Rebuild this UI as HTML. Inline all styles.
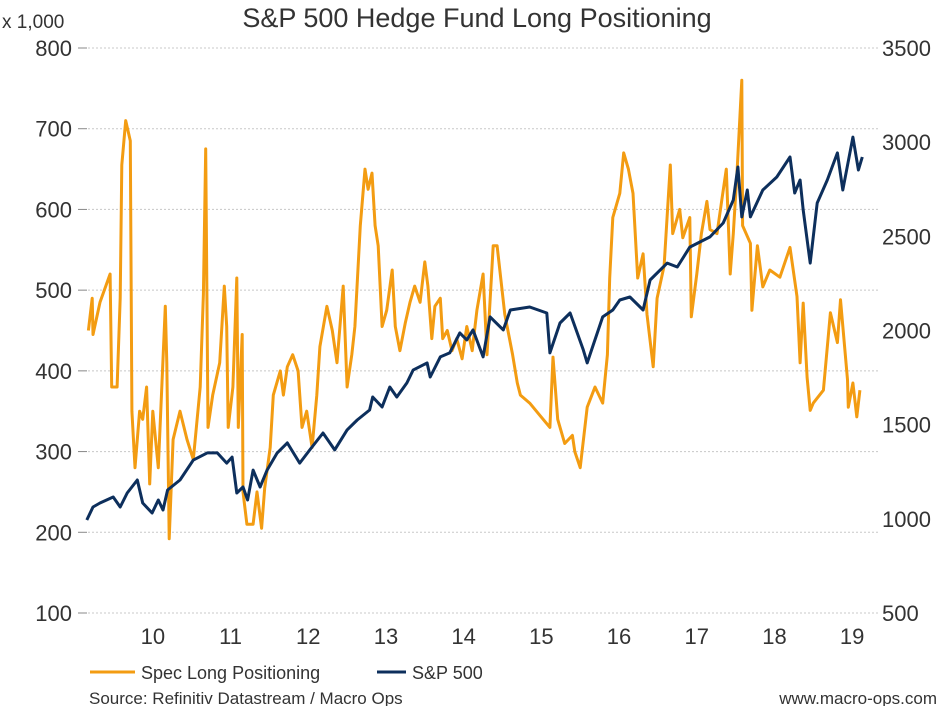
<!DOCTYPE html>
<html><head><meta charset="utf-8">
<style>
html,body{margin:0;padding:0;background:#fff;width:951px;height:706px;overflow:hidden;}
svg{display:block;font-family:"Liberation Sans",Arial,sans-serif;}
</style></head><body>
<svg id="chart" width="951" height="706" viewBox="0 0 951 706">
<text x="477" y="27" text-anchor="middle" font-size="27" fill="#333">S&amp;P 500 Hedge Fund Long Positioning</text>
<text x="2" y="28" font-size="19" fill="#333">x 1,000</text>
<g id="grid"></g><g id="laxis"></g><g id="raxis"></g><g id="xaxis"></g>
<g id="series"></g>
<g>
<line x1="90" y1="672" x2="135" y2="672" stroke="#f39c12" stroke-width="3"/>
<text x="141" y="679" font-size="18" fill="#333">Spec Long Positioning</text>
<line x1="377" y1="672" x2="406" y2="672" stroke="#0d2f5c" stroke-width="3"/>
<text x="412" y="679" font-size="18" fill="#333">S&amp;P 500</text>
</g>
<text x="89" y="704" font-size="17" fill="#333">Source: Refinitiv Datastream / Macro Ops</text>
<text x="937" y="704" text-anchor="end" font-size="17" fill="#333">www.macro-ops.com</text>
</svg>
<script>
const leftTicks=[100,200,300,400,500,600,700,800];
const rightTicks=[500,1000,1500,2000,2500,3000,3500];
const yearLabels=["10","11","12","13","14","15","16","17","18","19"];
const yearStarts=[2010,2011,2012,2013,2014,2015,2016,2017,2018,2019];
const specDates=[2009.67,2009.72,2009.73,2009.82,2009.95,2009.97,2010.04,2010.08,2010.10,2010.15,2010.21,2010.23,2010.27,2010.33,2010.37,2010.42,2010.46,2010.50,2010.57,2010.66,2010.68,2010.71,2010.76,2010.85,2010.94,2011.02,2011.11,2011.15,2011.18,2011.21,2011.27,2011.36,2011.42,2011.45,2011.47,2011.53,2011.58,2011.60,2011.65,2011.66,2011.71,2011.79,2011.84,2011.90,2011.94,2012.01,2012.05,2012.14,2012.18,2012.23,2012.30,2012.37,2012.42,2012.48,2012.55,2012.61,2012.65,2012.74,2012.81,2012.87,2012.95,2013.00,2013.06,2013.10,2013.17,2013.23,2013.27,2013.32,2013.36,2013.40,2013.45,2013.51,2013.58,2013.62,2013.68,2013.75,2013.81,2013.87,2013.94,2014.00,2014.04,2014.09,2014.13,2014.20,2014.23,2014.29,2014.35,2014.41,2014.48,2014.54,2014.61,2014.67,2014.75,2014.80,2014.88,2014.93,2015.03,2015.13,2015.19,2015.23,2015.35,2015.48,2015.61,2015.65,2015.71,2015.80,2015.90,2015.93,2016.00,2016.09,2016.19,2016.29,2016.35,2016.38,2016.42,2016.51,2016.56,2016.62,2016.68,2016.74,2016.81,2016.86,2016.94,2016.99,2017.08,2017.16,2017.19,2017.28,2017.32,2017.41,2017.43,2017.50,2017.56,2017.63,2017.67,2017.76,2017.82,2017.88,2017.93,2017.97,2018.02,2018.08,2018.09,2018.19,2018.21,2018.28,2018.35,2018.44,2018.57,2018.70,2018.79,2018.83,2018.87,2018.92,2018.96,2019.00,2019.13,2019.22,2019.31,2019.35,2019.44,2019.45,2019.51,2019.56,2019.60,2019.63];
const specValues=[450,490,445,485,520,380,380,490,655,710,685,350,280,350,340,380,260,350,280,480,410,192,315,350,315,290,380,495,675,330,370,410,505,455,330,380,515,330,445,250,210,210,250,205,255,305,370,400,370,405,420,400,330,350,305,370,430,480,450,410,505,380,420,455,580,650,625,645,580,555,455,475,525,455,425,460,485,505,485,535,505,440,480,490,440,450,425,440,415,455,425,475,520,420,555,555,470,420,385,370,360,345,330,417,340,310,320,300,280,355,380,360,420,515,590,620,670,650,620,515,545,470,405,490,530,655,570,600,565,590,467,520,570,610,575,570,610,650,520,570,650,760,580,558,475,555,504,525,516,553,492,410,484,392,351,360,376,472,435,488,389,355,385,343,376];
const spxDates=[2009.65,2009.73,2009.82,2009.99,2010.08,2010.17,2010.30,2010.37,2010.49,2010.57,2010.63,2010.69,2010.85,2011.02,2011.20,2011.33,2011.45,2011.52,2011.58,2011.66,2011.72,2011.79,2011.88,2011.97,2012.10,2012.23,2012.39,2012.52,2012.69,2012.84,2013.00,2013.13,2013.29,2013.33,2013.45,2013.55,2013.64,2013.77,2013.85,2014.03,2014.07,2014.20,2014.32,2014.45,2014.54,2014.62,2014.75,2014.84,2015.01,2015.10,2015.35,2015.57,2015.61,2015.74,2015.87,2016.04,2016.09,2016.29,2016.42,2016.51,2016.64,2016.81,2016.90,2017.12,2017.25,2017.41,2017.67,2017.84,2017.97,2018.03,2018.08,2018.15,2018.19,2018.35,2018.53,2018.70,2018.76,2018.83,2018.87,2018.96,2019.05,2019.18,2019.31,2019.38,2019.51,2019.58,2019.63];
const spxValues=[994,1063,1084,1116,1063,1137,1206,1084,1031,1100,1047,1153,1206,1312,1350,1350,1296,1328,1137,1169,1100,1259,1169,1259,1350,1403,1296,1366,1456,1366,1472,1525,1578,1647,1594,1700,1647,1722,1790,1828,1753,1860,1881,1987,1950,2003,1860,2072,2003,2109,2125,2093,1881,2040,2093,1897,1828,2072,2109,2162,2178,2109,2268,2358,2337,2443,2497,2571,2693,2868,2603,2746,2603,2746,2815,2921,2730,2799,2640,2358,2677,2799,2943,2746,3027,2852,2921];

const NS="http://www.w3.org/2000/svg";
const X0=88,X1=880,YT=48,YB=613;
const xOf=t=>114+(t-2010)*77.7;
const yL=v=>YB-(v-100)/700*(YB-YT);
const yR=v=>YB-(v-500)/3000*(YB-YT);
function mk(tag,attrs,parent){const e=document.createElementNS(NS,tag);for(const k in attrs)e.setAttribute(k,attrs[k]);document.getElementById(parent).appendChild(e);return e;}

leftTicks.forEach(v=>{
  const g=mk('line',{x1:X0,x2:X1,y1:yL(v),y2:yL(v),stroke:'#c8c8c8','stroke-width':1,'stroke-dasharray':'2,2'},'grid');
  
  
  const tk=mk('line',{x1:78,x2:87,y1:yL(v),y2:yL(v),stroke:'#888','stroke-width':1},'laxis');
  
  
  const t=mk('text',{x:72,y:yL(v)+8,'text-anchor':'end','font-size':22,fill:'#333'},'laxis');
  t.textContent=v;
  
  
});
rightTicks.forEach(v=>{
  const t=mk('text',{x:882,y:yR(v)+8,'font-size':22,fill:'#333'},'raxis');
  t.textContent=v;
  
  
});
yearStarts.forEach((y,i)=>{
  const t=mk('text',{x:xOf(y+0.5),y:644,'text-anchor':'middle','font-size':22,fill:'#333'},'xaxis');
  t.textContent=yearLabels[i];
  
  
});
const sp=mk('polyline',{points:specDates.map((d,i)=>xOf(d).toFixed(1)+','+yL(specValues[i]).toFixed(1)).join(' '),fill:'none',stroke:'#f39c12','stroke-width':3,'stroke-linejoin':'round'},'series');


const sx=mk('polyline',{points:spxDates.map((d,i)=>xOf(d).toFixed(1)+','+yR(spxValues[i]).toFixed(1)).join(' '),fill:'none',stroke:'#0d2f5c','stroke-width':3,'stroke-linejoin':'round'},'series');


</script>
</body></html>
